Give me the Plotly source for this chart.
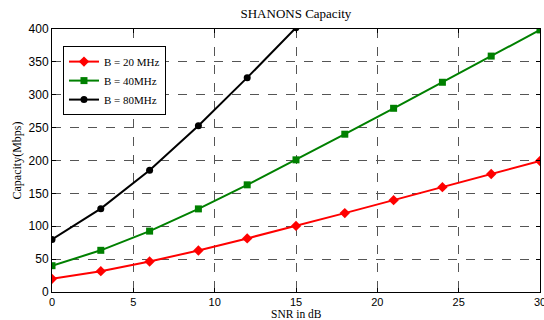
import plotly.graph_objects as go

snr_db = [0, 3, 6, 9, 12, 15, 18, 21, 24, 27, 30]
cap_20 = [20, 31.7, 46.3, 63.2, 81.5, 100.5, 120, 139.7, 159.5, 179.4, 199.3]
cap_40 = [40, 63.4, 92.6, 126.4, 163, 201, 240, 279.4, 319, 358.8, 398.6]
snr_db_80 = [0, 3, 6, 9, 12, 15]
cap_80 = [80, 126.8, 185.2, 252.8, 326, 402]

serif = "Liberation Serif, Times New Roman, serif"
sans = "Liberation Sans, Arial, sans-serif"

fig = go.Figure()
fig.add_trace(go.Scatter(x=snr_db, y=cap_20, mode="lines+markers", name="B = 20 MHz",
                         line=dict(color="#ff0000", width=2),
                         marker=dict(symbol="diamond", size=8, color="#ff0000")))
fig.add_trace(go.Scatter(x=snr_db, y=cap_40, mode="lines+markers", name="B = 40MHz",
                         line=dict(color="#008000", width=2),
                         marker=dict(symbol="square", size=7, color="#008000")))
fig.add_trace(go.Scatter(x=snr_db_80, y=cap_80, mode="lines+markers", name="B = 80MHz",
                         line=dict(color="#000000", width=2),
                         marker=dict(symbol="circle", size=7, color="#000000")))

fig.update_layout(
    width=544, height=320,
    margin=dict(l=52, r=4, t=29, b=28, autoexpand=False),
    paper_bgcolor="white", plot_bgcolor="white",
    title=dict(text="SHANONS Capacity", x=0.544, xanchor="center", y=0.958, yanchor="middle",
               font=dict(family=serif, size=13, color="#000")),
    legend=dict(x=0.0225, y=0.935, xanchor="left", yanchor="top",
                bordercolor="#000", borderwidth=1, bgcolor="white",
                font=dict(family=serif, size=11, color="#000"),
                tracegroupgap=0, itemwidth=30),
    showlegend=True,
    annotations=[dict(text="SNR in dB", xref="paper", yref="paper", x=0.5, y=0,
                      xanchor="center", yanchor="top", yshift=-15, showarrow=False,
                      borderpad=0,
                      font=dict(family=serif, size=11.5, color="#000"))],
)
axis_common = dict(
    showline=True, linecolor="#000", linewidth=1, mirror="ticks",
    ticks="inside", ticklen=4, tickcolor="#000",
    showgrid=True, gridcolor="#555", griddash="dash", gridwidth=1,
    zeroline=False, automargin=False, ticklabeloverflow="allow",
    tickfont=dict(family=sans, size=12, color="#000"),
)
fig.update_xaxes(range=[0, 30], tickvals=list(range(0, 31, 5)), ticklabelstandoff=0,
                 **{**axis_common, "tickfont": dict(family=sans, size=11, color="#000")})
fig.update_yaxes(range=[0, 400], tickvals=list(range(0, 401, 50)),
                 title=dict(text="Capacity(Mbps)", font=dict(family=serif, size=12, color="#000"), standoff=4),
                 **axis_common)

fig.write_html("out.html")
